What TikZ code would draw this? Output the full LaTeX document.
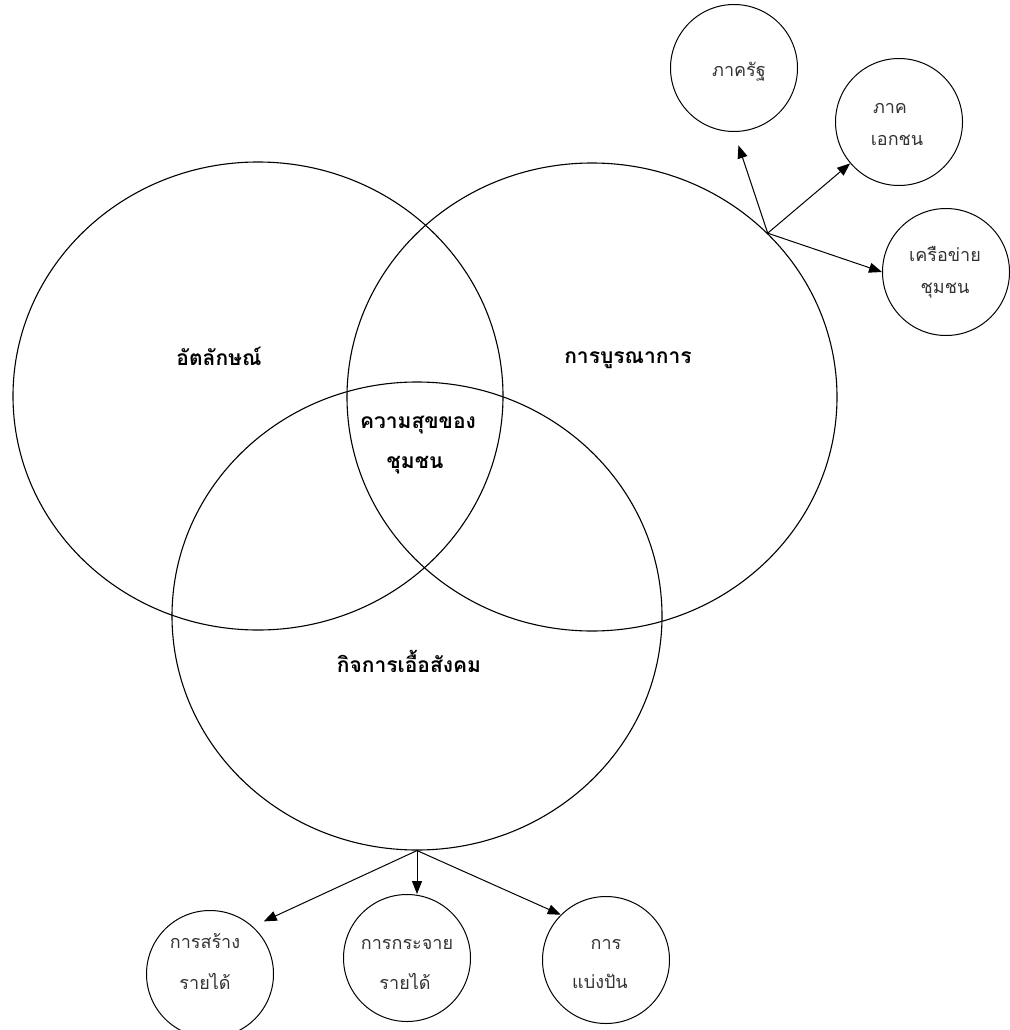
\documentclass[tikz,border=0pt]{standalone}
\usepackage{fontspec}
\newfontfamily\thai[Script=Thai]{Loma}
\usetikzlibrary{shapes.geometric,arrows.meta}
\begin{document}
\begin{tikzpicture}[x=1pt,y=-1pt,
  bigell/.style={draw, ellipse, line width=1.1pt, minimum width=490pt, minimum height=468pt, inner sep=0pt},
  smallc/.style={draw, circle, line width=1pt, minimum size=127pt, inner sep=0pt},
  mainlbl/.style={font=\thai\bfseries\fontsize{21pt}{25pt}\selectfont, inner sep=0pt},
  smalllbl/.style={font=\thai\fontsize{18pt}{22pt}\selectfont, inner sep=0pt, text=black!80},
  arr/.style={-{Triangle[length=13pt,width=10pt]}, line width=1pt}]
\useasboundingbox (0,0) rectangle (1009,1030);
% three overlapping circles
\node[bigell] (L) at (258,396) {};
\node[bigell] (R) at (592,397) {};
\node[bigell] (B) at (417,616) {};
% labels
\node[mainlbl] (tL) at (219,356) {อัตลักษณ์};
\node[mainlbl] (tR) at (628,360) {การบูรณาการ};
\node[mainlbl] (tC1) at (418,425) {ความสุขของ};
\node[mainlbl] (tC2) at (415,465) {ชุมชน};
\node[mainlbl] (tB) at (409,661) {กิจการเอื้อสังคม};
% upper right circles
\node[smallc] (gov) at (734,68) {};
\node[smallc] (priv) at (899,122) {};
\node[smallc] (net) at (946,272) {};
\node[smalllbl] (tgov) at (739,72) {ภาครัฐ};
\node[smalllbl] (tpriv1) at (890,108) {ภาค};
\node[smalllbl] (tpriv2) at (897,140) {เอกชน};
\node[smalllbl] (tnet1) at (945,254) {เครือข่าย};
\node[smalllbl] (tnet2) at (945,291) {ชุมชน};
% bottom circles
\node[smallc] (inc) at (210,974) {};
\node[smallc] (dist) at (407,958) {};
\node[smallc] (share) at (606,960) {};
\node[smalllbl] (tinc1) at (205,941) {การสร้าง};
\node[smalllbl] (tinc2) at (205,981) {รายได้};
\node[smalllbl] (tdist1) at (407,944) {การกระจาย};
\node[smalllbl] (tdist2) at (405,981) {รายได้};
\node[smalllbl] (tshare1) at (606,944) {การ};
\node[smalllbl] (tshare2) at (600,981) {แบ่งปัน};
% connectors
\coordinate (rsrc) at (R.43);
\draw[arr, shorten >=14pt] (rsrc) -- (gov.south);
\draw[arr] (rsrc) -- (priv);
\draw[arr] (rsrc) -- (net.west);
\coordinate (bsrc) at (B.south);
\draw[arr, shorten >=12pt] (bsrc) -- (inc.48);
\draw[arr] (bsrc) -- (bsrc |- dist.north);
\draw[arr] (bsrc) -- (share.135);
\end{tikzpicture}
\end{document}
